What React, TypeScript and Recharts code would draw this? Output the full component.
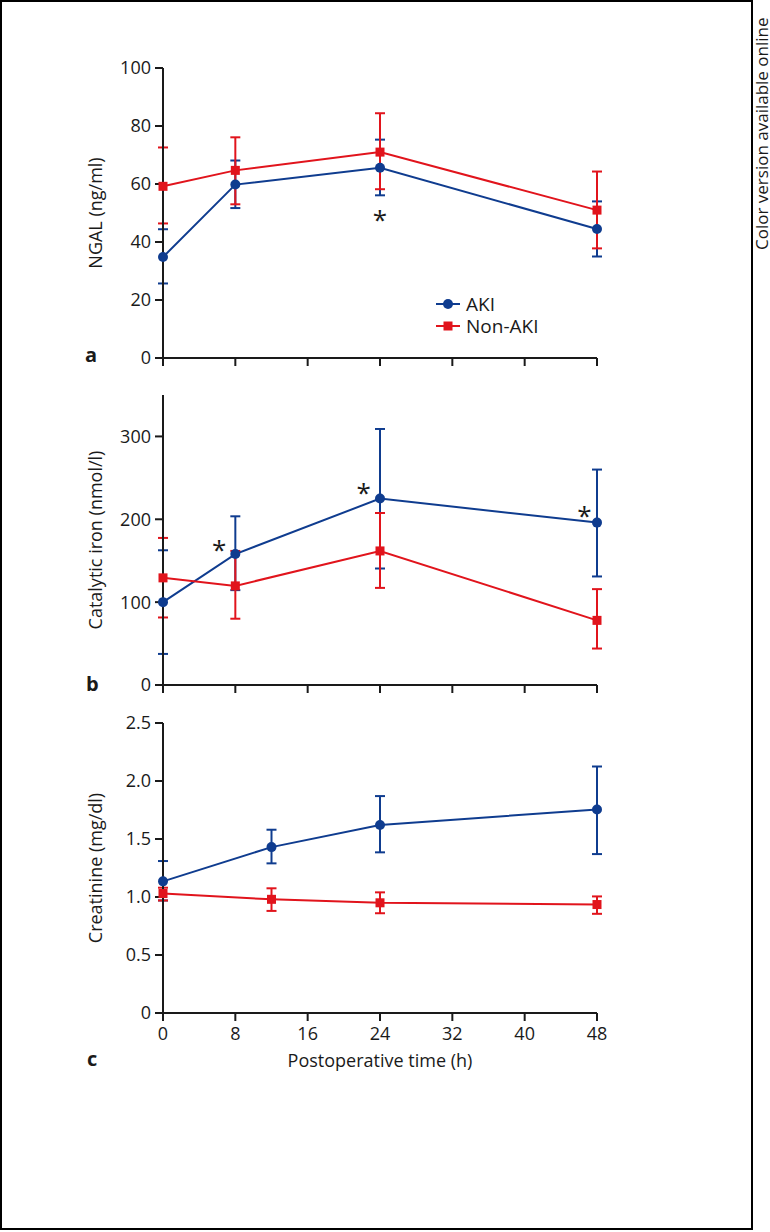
import React from 'react';
import { LineChart, Line, XAxis, YAxis, ErrorBar, Legend, ReferenceDot } from 'recharts';

const BLUE = '#0f3c8f';
const RED = '#e1141c';
const INK = '#1a1a1a';

const hourTicks = [0, 8, 16, 24, 32, 40, 48];

// a: NGAL (ng/ml)
const hoursAB = [0, 8, 24, 48];
const ngalAki = [34.8, 59.8, 65.6, 44.5];
const ngalAkiLow = [25.7, 51.7, 56.1, 35];
const ngalAkiHigh = [44.4, 68.1, 75.3, 54];
const ngalNon = [59.2, 64.7, 71, 51];
const ngalNonLow = [46.4, 53, 58.2, 37.8];
const ngalNonHigh = [72.6, 76.1, 84.4, 64.3];
const ngalTicks = [0, 20, 40, 60, 80, 100];
const ngalStars = [{ x: 24, y: 49.5 }];

// b: catalytic iron (nmol/l)
const ironAki = [100, 158, 225, 196];
const ironAkiLow = [37.5, 114.5, 140.6, 131];
const ironAkiHigh = [162.6, 203.6, 309, 260];
const ironNon = [129.3, 119.6, 161.8, 78];
const ironNonLow = [81.5, 80, 117.2, 44];
const ironNonHigh = [177.5, 161.8, 207.6, 115.7];
const ironTicks = [0, 100, 200, 300];
const ironStars = [
  { x: 6.2, y: 170 },
  { x: 22.2, y: 239 },
  { x: 46.6, y: 211 },
];

// c: creatinine (mg/dl)
const hoursC = [0, 12, 24, 48];
const creatAki = [1.135, 1.43, 1.62, 1.755];
const creatAkiLow = [0.97, 1.29, 1.385, 1.37];
const creatAkiHigh = [1.31, 1.58, 1.87, 2.125];
const creatNon = [1.03, 0.98, 0.95, 0.935];
const creatNonLow = [0.97, 0.88, 0.86, 0.855];
const creatNonHigh = [1.08, 1.075, 1.04, 1.005];
const creatTicks = [0, 0.5, 1.0, 1.5, 2.0, 2.5];

const legendItems = [
  { name: 'AKI', color: BLUE, square: false },
  { name: 'Non-AKI', color: RED, square: true },
];

const buildRows = (
  hours: number[],
  aki: number[], akiLow: number[], akiHigh: number[],
  non: number[], nonLow: number[], nonHigh: number[]
) =>
  hours.map((h, i) => ({
    h,
    aki: aki[i],
    akiErr: [aki[i] - akiLow[i], akiHigh[i] - aki[i]],
    non: non[i],
    nonErr: [non[i] - nonLow[i], nonHigh[i] - non[i]],
  }));

const ngalRows = buildRows(hoursAB, ngalAki, ngalAkiLow, ngalAkiHigh, ngalNon, ngalNonLow, ngalNonHigh);
const ironRows = buildRows(hoursAB, ironAki, ironAkiLow, ironAkiHigh, ironNon, ironNonLow, ironNonHigh);
const creatRows = buildRows(hoursC, creatAki, creatAkiLow, creatAkiHigh, creatNon, creatNonLow, creatNonHigh);

// plot area is 290px tall in every panel; charts start 20px above it
const PAD_TOP = 20;

const squareDot = (p: any) => (
  <rect key={`sq-${p.index}`} x={p.cx - 4.5} y={p.cy - 4.5} width={9} height={9} fill={RED} />
);

const star = (p: any) => (
  <text x={p.cx} y={p.cy} dy="0.56em" textAnchor="middle" fontSize={26} fill={INK}>*</text>
);

const yLabel = (text: string) => (props: any) => {
  const vb = props.viewBox || {};
  const cy = vb.y != null ? vb.y + vb.height / 2 : PAD_TOP + 145;
  return (
    <text
      x={95}
      y={cy}
      transform={`rotate(-90, 95, ${cy})`}
      textAnchor="middle"
      dominantBaseline="central"
      fontSize={18}
      fill={INK}
    >
      {text}
    </text>
  );
};

const xLabel = (props: any) => {
  const vb = props.viewBox || {};
  return (
    <text x={vb.x + vb.width / 2} y={vb.y + 54} textAnchor="middle" fontSize={18} fill={INK}>
      Postoperative time (h)
    </text>
  );
};

const renderLegend = () => (
  <div>
    {legendItems.map(it => (
      <div key={it.name} style={{ display: 'flex', alignItems: 'center', height: 22 }}>
        <svg width={24} height={12}>
          <line x1={0} x2={24} y1={6} y2={6} stroke={it.color} strokeWidth={2} />
          {it.square ? (
            <rect x={7.5} y={1.5} width={9} height={9} fill={it.color} />
          ) : (
            <circle cx={12} cy={6} r={5} fill={it.color} />
          )}
        </svg>
        <span style={{ marginLeft: 6, fontSize: 19, lineHeight: '20px', color: INK }}>{it.name}</span>
      </div>
    ))}
  </div>
);

interface PanelProps {
  top: number;
  height: number;
  rows: any[];
  domain: [number, number];
  ticks: number[];
  label: string;
  fmt?: (v: number) => string;
  hourLabels?: boolean;
  stars?: { x: number; y: number }[];
  legend?: boolean;
}

const Panel: React.FC<PanelProps> = ({ top, height, rows, domain, ticks, label, fmt, hourLabels, stars = [], legend }) => (
  <div style={{ position: 'absolute', left: 0, top: top - PAD_TOP }}>
    <LineChart width={770} height={height} data={rows} margin={{ top: PAD_TOP, right: 173, bottom: 0, left: 83 }}>
      <XAxis
        type="number"
        dataKey="h"
        domain={[0, 48]}
        ticks={hourTicks}
        height={height - PAD_TOP - 290}
        tickSize={8}
        tickMargin={6}
        stroke={INK}
        strokeWidth={2}
        tick={{ fontSize: 18, fill: INK }}
        tickFormatter={hourLabels ? (v: number) => `${v}` : () => ''}
        label={hourLabels ? xLabel : undefined}
      />
      <YAxis
        type="number"
        domain={domain}
        ticks={ticks}
        width={80}
        tickSize={8}
        tickMargin={4}
        stroke={INK}
        strokeWidth={2}
        tick={{ fontSize: 18, fill: INK }}
        tickFormatter={fmt}
        label={yLabel(label)}
      />
      {legend && (
        <Legend
          layout="horizontal"
          verticalAlign="middle"
          align="center"
          content={renderLegend}
          wrapperStyle={{ left: 436, top: PAD_TOP + 225, width: 'auto' }}
        />
      )}
      <Line
        type="linear"
        dataKey="aki"
        stroke={BLUE}
        strokeWidth={2}
        dot={{ r: 5, fill: BLUE, stroke: BLUE, strokeWidth: 0 }}
        activeDot={false}
        isAnimationActive={false}
      >
        <ErrorBar dataKey="akiErr" direction="y" width={5} stroke={BLUE} strokeWidth={2} isAnimationActive={false} />
      </Line>
      <Line
        type="linear"
        dataKey="non"
        stroke={RED}
        strokeWidth={2}
        dot={squareDot}
        activeDot={false}
        isAnimationActive={false}
      >
        <ErrorBar dataKey="nonErr" direction="y" width={5} stroke={RED} strokeWidth={2} isAnimationActive={false} />
      </Line>
      {stars.map((s, i) => (
        <ReferenceDot key={i} x={s.x} y={s.y} r={1} shape={star} ifOverflow="visible" />
      ))}
    </LineChart>
  </div>
);

const letterStyle: React.CSSProperties = {
  position: 'absolute',
  fontSize: 20,
  fontWeight: 700,
  lineHeight: '20px',
  color: INK,
};

export default function App() {
  return (
    <div
      style={{
        position: 'absolute',
        left: 0,
        top: 0,
        width: 770,
        height: 1232,
        overflow: 'hidden',
        background: '#fff',
        fontFamily: '"Open Sans", sans-serif',
      }}
    >
      <div
        style={{
          position: 'absolute',
          left: 0,
          top: 0,
          width: 753,
          height: 1230,
          border: '2px solid #000',
          boxSizing: 'border-box',
        }}
      />
      <div
        style={{
          position: 'absolute',
          left: 0,
          top: 0,
          whiteSpace: 'nowrap',
          fontSize: 17,
          lineHeight: '14px',
          color: INK,
          transform: 'translate(755px, 250px) rotate(-90deg)',
          transformOrigin: '0 0',
        }}
      >
        Color version available online
      </div>

      <Panel top={68} height={350} rows={ngalRows} domain={[0, 100]} ticks={ngalTicks} label="NGAL (ng/ml)" stars={ngalStars} legend />
      <Panel top={395} height={350} rows={ironRows} domain={[0, 350]} ticks={ironTicks} label="Catalytic iron (nmol/l)" stars={ironStars} />
      <Panel
        top={723}
        height={380}
        rows={creatRows}
        domain={[0, 2.5]}
        ticks={creatTicks}
        label="Creatinine (mg/dl)"
        fmt={(v: number) => (v === 0 ? '0' : v.toFixed(1))}
        hourLabels
      />

      <div style={{ ...letterStyle, left: 85, top: 345 }}>a</div>
      <div style={{ ...letterStyle, left: 86, top: 674 }}>b</div>
      <div style={{ ...letterStyle, left: 87, top: 1049 }}>c</div>
    </div>
  );
}
